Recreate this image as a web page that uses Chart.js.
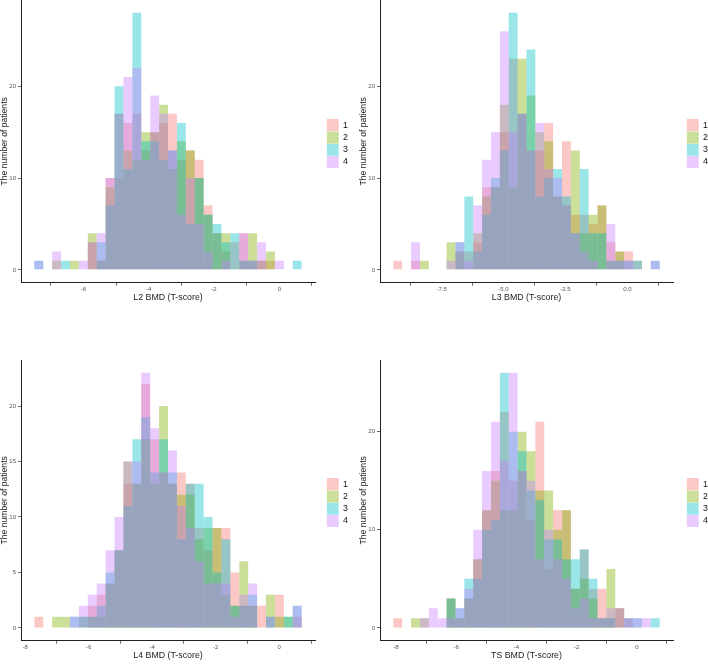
<!DOCTYPE html>
<html>
<head>
<meta charset="utf-8">
<script src="https://cdn.jsdelivr.net/npm/chart.js@4.4.1/dist/chart.umd.min.js"></script>
<style>
  html, body { margin: 0; padding: 0; background: #fff; overflow: hidden; }
  body { width: 708px; height: 665px; position: relative; }
  canvas { position: absolute; }
</style>
</head>
<body>
<canvas id="l2"></canvas>
<canvas id="l3"></canvas>
<canvas id="l4"></canvas>
<canvas id="ts"></canvas>
<script>
const groups = ['1', '2', '3', '4'];
const groupColors = ['rgba(248,118,109,0.4)', 'rgba(124,174,0,0.4)', 'rgba(0,191,196,0.4)', 'rgba(199,124,255,0.4)'];
const yTitle = 'The number of patients';

// L2 BMD
const l2BinStart = -7.50;
const l2BinWidth = 0.2728;
const l2Group1 = [0,0,0,0,0,0,3,1,10,10,16,17,13,15,16,17,12,13,12,7,4,2,3,4,1,1,1,0,0,0];
const l2Group2 = [0,0,1,0,1,0,4,1,9,17,13,12,15,15,18,11,14,13,10,6,4,4,0,1,4,1,2,0,0,0];
const l2Group3 = [1,0,0,1,0,0,0,3,7,20,11,28,14,14,12,13,16,5,10,6,5,3,4,1,1,0,0,0,0,1];
const l2Group4 = [1,0,2,0,0,1,3,4,10,17,21,22,12,19,17,13,6,10,5,2,0,1,0,4,1,3,0,1,0,0];
const l2XTicks = [-6, -4, -2, 0];
const l2XLabels = ['-6', '-4', '-2', '0'];
const l2YTicks = [0, 10, 20];

// L3 BMD
const l3BinStart = -9.45;
const l3BinWidth = 0.3585;
const l3Group1 = [1,0,1,0,0,0,0,2,2,3,9,9,15,23,17,13,13,16,8,14,6,6,5,7,3,2,2,1,0,0];
const l3Group2 = [0,0,0,1,0,0,3,2,0,4,8,9,18,9,23,19,15,14,8,7,13,4,6,7,1,2,0,0,0,0];
const l3Group3 = [0,0,0,0,0,0,0,3,8,2,6,10,13,28,17,24,8,10,11,8,4,11,4,4,1,1,1,1,0,1];
const l3Group4 = [0,0,3,0,0,0,1,3,1,7,12,15,26,15,17,13,16,11,10,7,4,2,1,0,5,1,1,0,0,1];
const l3XTicks = [-7.5, -5, -2.5, 0];
const l3XLabels = ['-7.5', '-5.0', '-2.5', '0.0'];
const l3YTicks = [0, 10, 20];

// L4 BMD
const l4BinStart = -7.71;
const l4BinWidth = 0.2805;
const l4Group1 = [1,0,0,0,0,0,2,3,4,7,13,13,22,17,14,13,14,13,9,7,9,9,5,2,2,2,0,3,0,1];
const l4Group2 = [0,0,1,1,0,1,1,1,4,7,15,13,17,13,20,13,12,12,8,9,9,3,2,6,2,0,3,1,1,0];
const l4Group3 = [0,0,0,0,1,1,1,2,5,7,11,17,19,14,17,14,8,13,13,10,5,8,2,2,3,0,1,0,1,2];
const l4Group4 = [0,0,0,0,1,2,3,4,7,10,15,15,23,18,14,16,11,9,6,4,4,4,1,3,4,0,1,0,0,2];
const l4XTicks = [-8, -6, -4, -2, 0];
const l4XLabels = ['-8', '-6', '-4', '-2', '0'];
const l4YTicks = [0, 5, 10, 15, 20];

// TS BMD
const tsBinStart = -8.09;
const tsBinWidth = 0.295;
const tsGroup1 = [1,0,0,0,0,0,3,1,3,7,12,16,22,15,16,11,21,6,12,12,4,8,4,4,1,2,1,0,0,0];
const tsGroup2 = [0,0,1,1,0,0,3,1,3,7,12,15,12,12,20,18,14,14,10,12,4,5,3,1,6,2,0,0,0,0];
const tsGroup3 = [0,0,0,0,0,0,3,2,5,5,10,11,26,20,18,14,13,9,9,7,7,8,5,1,1,0,1,1,0,1];
const tsGroup4 = [0,0,0,1,2,1,1,2,4,10,16,21,17,26,16,15,7,10,7,5,2,3,1,1,2,2,1,1,1,0];
const tsXTicks = [-8, -6, -4, -2, 0];
const tsXLabels = ['-8', '-6', '-4', '-2', '0'];
const tsYTicks = [0, 10, 20];

Chart.defaults.font.family = '"Liberation Sans", Arial, sans-serif';

// moves the legend away from the plot, like ggplot's legend spacing
const legendShift = {
    id: 'legendShift',
    afterLayout(chart, args, opts) {
        const lg = chart.legend;
        lg.left += opts.dx;
        lg.right += opts.dx;
        lg.top += opts.dy;
        lg.bottom += opts.dy;
    }
};

function drawPanel(id, cfg) {
    const canvas = document.getElementById(id);
    canvas.style.left = cfg.left + 'px';
    canvas.style.top = cfg.top + 'px';
    canvas.width = cfg.width;
    canvas.height = cfg.height;

    const nBins = cfg.counts[0].length;
    const centers = cfg.counts[0].map((_, i) => cfg.binStart + cfg.binWidth * (i + 0.5));
    const span = cfg.binWidth * nBins;
    const peak = Math.max(...cfg.counts.flat());

    const axisGrid = { drawOnChartArea: false, drawTicks: true, tickLength: 3, tickColor: '#444', tickWidth: 0.8 };
    const axisBorder = { display: true, color: '#222', width: 1 };

    new Chart(canvas, {
        type: 'bar',
        data: {
            datasets: cfg.counts.map((series, k) => ({
                label: groups[k],
                data: series.map((v, i) => ({ x: centers[i], y: v })),
                backgroundColor: groupColors[k],
                borderWidth: 0,
                inflateAmount: 0,
                grouped: false,
                barPercentage: 1,
                categoryPercentage: 1,
                order: groups.length - k
            }))
        },
        options: {
            responsive: false,
            animation: false,
            devicePixelRatio: 1,
            layout: { padding: { top: cfg.padTop, right: cfg.legendGap, bottom: 0, left: 0 } },
            plugins: {
                legend: {
                    position: 'right',
                    fullSize: false,
                    maxWidth: 29.6,
                    labels: {
                        boxWidth: 12,
                        boxHeight: 12,
                        padding: 0.3,
                        color: '#111',
                        font: { size: 8.8 },
                        sort: (a, b) => a.datasetIndex - b.datasetIndex
                    }
                },
                tooltip: { enabled: false },
                legendShift: { dx: cfg.legendGap, dy: 2.2 }
            },
            scales: {
                x: {
                    type: 'linear',
                    offset: false,
                    min: cfg.binStart - 0.05 * span,
                    max: cfg.binStart + 1.05 * span,
                    afterBuildTicks: axis => { axis.ticks = cfg.xTicks.map(v => ({ value: v })); },
                    afterFit: scale => {
                        scale.height = 27.3;
                        scale.paddingLeft = 0;
                        scale.paddingRight = 0;
                    },
                    grid: axisGrid,
                    border: axisBorder,
                    ticks: {
                        autoSkip: false,
                        maxRotation: 0,
                        padding: 0,
                        color: '#555',
                        font: { size: 6 },
                        callback: (v, i) => cfg.xLabels[i]
                    },
                    title: {
                        display: true,
                        text: cfg.xTitle,
                        color: '#222',
                        font: { size: 8.8, lineHeight: 1 },
                        padding: { top: 0, bottom: 8.4 }
                    }
                },
                y: {
                    min: -0.05 * peak,
                    max: 1.05 * peak,
                    afterBuildTicks: axis => { axis.ticks = cfg.yTicks.map(v => ({ value: v })); },
                    afterFit: scale => {
                        scale.width = 21;
                        scale.paddingTop = 0;
                        scale.paddingBottom = 0;
                    },
                    grid: axisGrid,
                    border: axisBorder,
                    ticks: {
                        padding: 2,
                        color: '#555',
                        font: { size: 6 },
                        callback: v => String(v)
                    },
                    title: {
                        display: true,
                        text: yTitle,
                        color: '#222',
                        font: { size: 8.6, lineHeight: 1 },
                        padding: 0
                    }
                }
            }
        },
        plugins: [legendShift]
    });
}

window.onload = function() {
    drawPanel('l2', {
        left: 0, top: 0, width: 356, height: 310, padTop: 0, legendGap: 11.4,
        binStart: l2BinStart, binWidth: l2BinWidth,
        counts: [l2Group1, l2Group2, l2Group3, l2Group4],
        xTicks: l2XTicks, xLabels: l2XLabels, yTicks: l2YTicks,
        xTitle: 'L2 BMD (T-score)'
    });
    drawPanel('l3', {
        left: 359, top: 0, width: 357, height: 310, padTop: 0, legendGap: 13.4,
        binStart: l3BinStart, binWidth: l3BinWidth,
        counts: [l3Group1, l3Group2, l3Group3, l3Group4],
        xTicks: l3XTicks, xLabels: l3XLabels, yTicks: l3YTicks,
        xTitle: 'L3 BMD (T-score)'
    });
    drawPanel('l4', {
        left: 0, top: 330, width: 356, height: 338, padTop: 30, legendGap: 11.4,
        binStart: l4BinStart, binWidth: l4BinWidth,
        counts: [l4Group1, l4Group2, l4Group3, l4Group4],
        xTicks: l4XTicks, xLabels: l4XLabels, yTicks: l4YTicks,
        xTitle: 'L4 BMD (T-score)'
    });
    drawPanel('ts', {
        left: 359, top: 330, width: 357, height: 338, padTop: 30, legendGap: 13.4,
        binStart: tsBinStart, binWidth: tsBinWidth,
        counts: [tsGroup1, tsGroup2, tsGroup3, tsGroup4],
        xTicks: tsXTicks, xLabels: tsXLabels, yTicks: tsYTicks,
        xTitle: 'TS BMD (T-score)'
    });
};
</script>
</body>
</html>
